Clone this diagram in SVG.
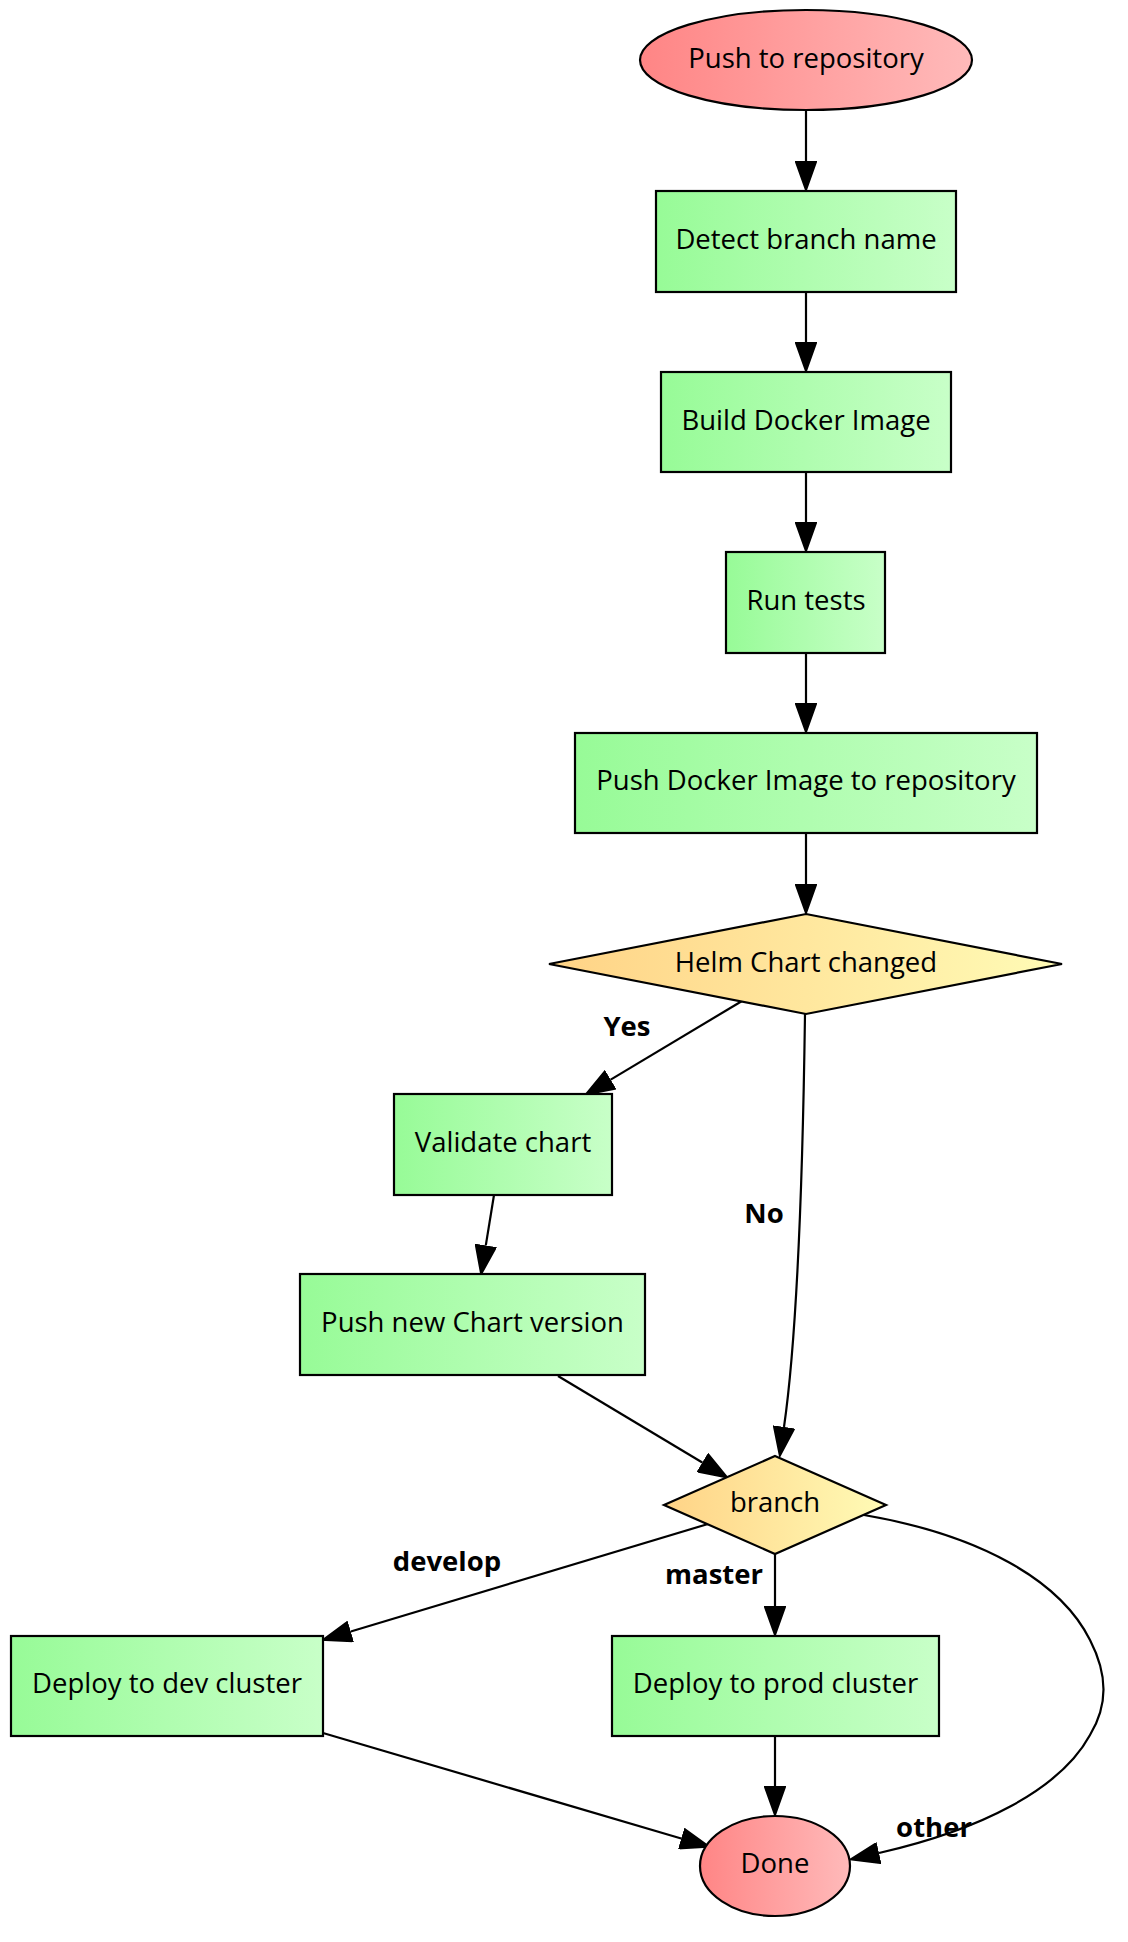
<svg xmlns="http://www.w3.org/2000/svg" width="1128" height="1942" viewBox="0 0 1128 1942">
<defs>
<linearGradient id="gRed" x1="0" y1="0" x2="1" y2="0"><stop offset="0" stop-color="#ff8585"/><stop offset="1" stop-color="#ffbaba"/></linearGradient>
<linearGradient id="gGreen" x1="0" y1="0" x2="1" y2="0"><stop offset="0" stop-color="#97fb97"/><stop offset="1" stop-color="#c8ffc8"/></linearGradient>
<linearGradient id="gYellow" x1="0" y1="0" x2="1" y2="0"><stop offset="0" stop-color="#ffd386"/><stop offset="1" stop-color="#fffbb6"/></linearGradient>
<marker id="arr" viewBox="0 0 30 22" markerWidth="30" markerHeight="22" refX="0" refY="11" orient="auto" markerUnits="userSpaceOnUse">
<path d="M1,1 L29,11 L1,21 z" fill="#000" stroke="#000" stroke-width="2"/>
</marker>
</defs>
<style>
.node{stroke:#000;stroke-width:2.2}
.lbl{font-family:"Open Sans","Noto Sans","DejaVu Sans",sans-serif;font-size:27.5px;text-anchor:middle;fill:#000}
.elbl{font-family:"Open Sans","Noto Sans","DejaVu Sans",sans-serif;font-size:27.5px;font-weight:bold;text-anchor:middle;fill:#000}
.edge{fill:none;stroke:#000;stroke-width:2.2;marker-end:url(#arr)}
</style>
<rect width="1128" height="1942" fill="#fff"/>
<g id="edges">
<path class="edge" d="M806,110 L806,161"/>
<path class="edge" d="M806,292 L806,342"/>
<path class="edge" d="M806,472 L806,522"/>
<path class="edge" d="M806,653 L806,703"/>
<path class="edge" d="M806,833 L806,884"/>
<path class="edge" d="M742,1001 L610.7,1079.6"/>
<path class="edge" d="M805,1014 C803,1160 798,1330 784,1427"/>
<path class="edge" d="M494,1195 L485.8,1245.4"/>
<path class="edge" d="M558,1376 L702.3,1462.5"/>
<path class="edge" d="M708,1524 L350.8,1631.5"/>
<path class="edge" d="M775,1554 L775,1606"/>
<path class="edge" d="M775,1736 L775,1786"/>
<path class="edge" d="M323,1733 L681.2,1838.5"/>
<path class="edge" d="M864,1515 C980,1535 1060,1580 1090,1640 C1108,1675 1108,1705 1090,1735 C1060,1790 980,1830 879,1853"/>
<text class="elbl" x="627" y="1036">Yes</text>
<text class="elbl" x="764" y="1223">No</text>
<text class="elbl" x="447" y="1571">develop</text>
<text class="elbl" x="714" y="1584">master</text>
<text class="elbl" x="934" y="1837">other</text>
</g>
<g id="push_repo">
<ellipse class="node" cx="806" cy="60" rx="166" ry="50" fill="url(#gRed)"/>
<text class="lbl" x="806" y="68">Push to repository</text>
</g>
<g id="detect_branch">
<rect class="node" x="656" y="191" width="300" height="101" fill="url(#gGreen)"/>
<text class="lbl" x="806" y="248.5">Detect branch name</text>
</g>
<g id="build_image">
<rect class="node" x="661" y="372" width="290" height="100" fill="url(#gGreen)"/>
<text class="lbl" x="806" y="429.5">Build Docker Image</text>
</g>
<g id="run_tests">
<rect class="node" x="726" y="552" width="159" height="101" fill="url(#gGreen)"/>
<text class="lbl" x="806" y="609.5">Run tests</text>
</g>
<g id="push_image">
<rect class="node" x="575" y="733" width="462" height="100" fill="url(#gGreen)"/>
<text class="lbl" x="806" y="790">Push Docker Image to repository</text>
</g>
<g id="helm_changed">
<polygon class="node" points="806,914 1062,964 806,1014 549,964" fill="url(#gYellow)"/>
<text class="lbl" x="806" y="972">Helm Chart changed</text>
</g>
<g id="validate_chart">
<rect class="node" x="394" y="1094" width="218" height="101" fill="url(#gGreen)"/>
<text class="lbl" x="503" y="1152">Validate chart</text>
</g>
<g id="push_chart">
<rect class="node" x="300" y="1274" width="345" height="101" fill="url(#gGreen)"/>
<text class="lbl" x="472.5" y="1332">Push new Chart version</text>
</g>
<g id="branch">
<polygon class="node" points="775,1456 886,1505 775,1554 664,1505" fill="url(#gYellow)"/>
<text class="lbl" x="775" y="1512">branch</text>
</g>
<g id="deploy_dev">
<rect class="node" x="11" y="1636" width="312" height="100" fill="url(#gGreen)"/>
<text class="lbl" x="167" y="1693">Deploy to dev cluster</text>
</g>
<g id="deploy_prod">
<rect class="node" x="612" y="1636" width="327" height="100" fill="url(#gGreen)"/>
<text class="lbl" x="775.5" y="1692.5">Deploy to prod cluster</text>
</g>
<g id="done">
<ellipse class="node" cx="775" cy="1866" rx="75" ry="50" fill="url(#gRed)"/>
<text class="lbl" x="775" y="1873">Done</text>
</g>
</svg>
